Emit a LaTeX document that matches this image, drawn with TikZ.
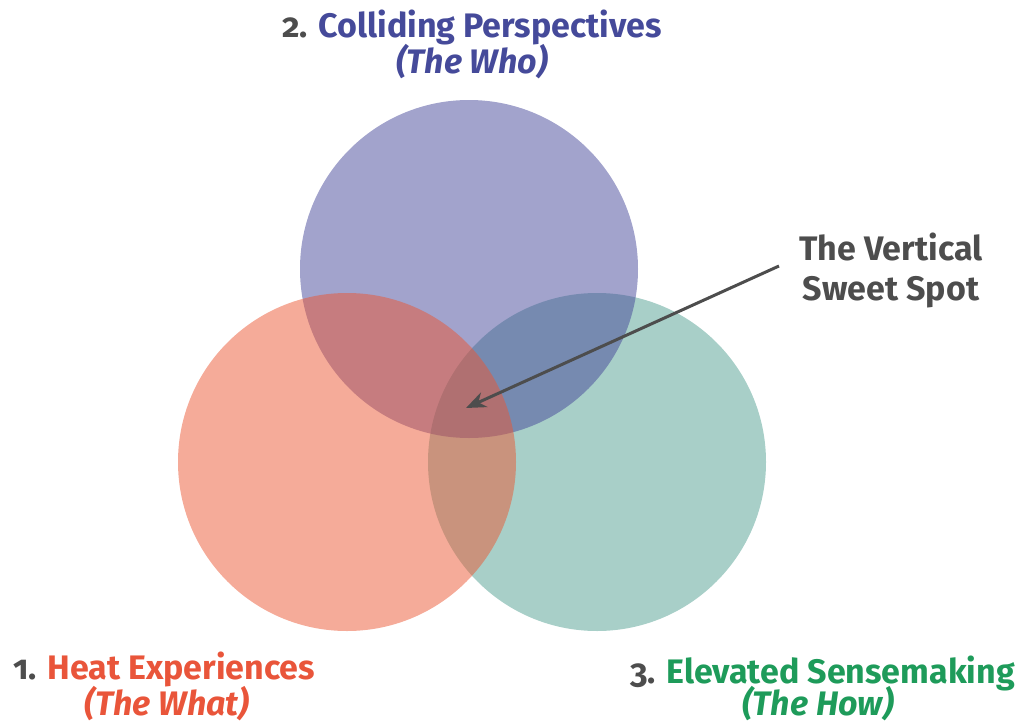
\documentclass[tikz,border=0pt]{standalone}
\usepackage{fontspec}
\setmainfont{Fira Sans}[Numbers=OldStyle]
\usetikzlibrary{arrows.meta}
\definecolor{cpurple}{RGB}{69,71,153}
\definecolor{cred}{RGB}{235,87,51}
\definecolor{cgreen}{RGB}{81,159,145}
\definecolor{tpurple}{RGB}{69,74,154}
\definecolor{tred}{RGB}{233,85,58}
\definecolor{tgreen}{RGB}{30,155,90}
\definecolor{tgray}{RGB}{77,77,77}
\tikzset{
  venn/.style={circle, minimum size=338pt, inner sep=0pt, fill opacity=0.5},
  lbl/.style={anchor=base, inner sep=0pt, font=\fontsize{34}{40}\selectfont\bfseries},
  ilbl/.style={anchor=base, inner sep=0pt, font=\fontsize{34}{40}\selectfont\bfseries\itshape},
}
\begin{document}
\begin{tikzpicture}[x=1pt,y=-1pt]
\useasboundingbox (0,0) rectangle (1021,723);
\node[venn, fill=cgreen] (green) at (597,462) {};
\node[venn, fill=cpurple] (purple) at (469,269) {};
\node[venn, fill=cred] (red) at (347,462) {};
\node[lbl] (t2) at (472,37) {\textcolor{tgray}{2.} \textcolor{tpurple}{Colliding Perspectives}};
\node[ilbl, text=tpurple] (t2b) at (472,73) {(The Who)};
\node[lbl, anchor=base west] (t1) at (13,679) {\textcolor{tgray}{1.} \textcolor{tred}{Heat Experiences}};
\node[ilbl, text=tred] (t1b) at (167,715) {(The What)};
\node[lbl, anchor=base east] (t3) at (1015,683) {\textcolor{tgray}{3.} \textcolor{tgreen}{Elevated Sensemaking}};
\node[ilbl, text=tgreen] (t3b) at (818,715) {(The How)};
\node[lbl, text=tgray] (s1) at (891,260) {The Vertical};
\node[lbl, text=tgray] (s2) at (891,300) {Sweet Spot};
\coordinate (from) at (779,266);
\coordinate (tip) at (466,408);
\draw[tgray, line width=3pt, -{Stealth[length=20pt,width=16pt]}] (from) -- (tip);
\end{tikzpicture}
\end{document}
